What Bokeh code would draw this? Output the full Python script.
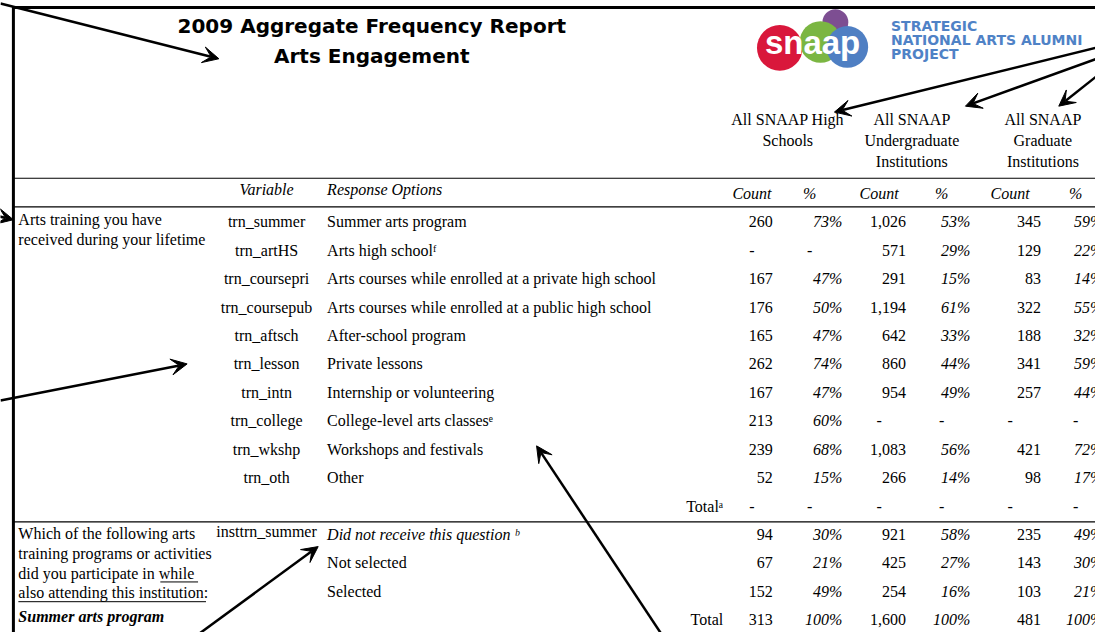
from bokeh.plotting import figure
from bokeh.models import Range1d, ColumnDataSource, Arrow, VeeHead
from bokeh.core.properties import value
from bokeh.embed import file_html
from bokeh.resources import INLINE

# ---------------- data ----------------
title_lines = ["2009 Aggregate Frequency Report", "Arts Engagement"]
logo_word = "snaap"
logo_lines = ["STRATEGIC", "NATIONAL ARTS ALUMNI", "PROJECT"]
group_headers = [["All SNAAP High", "Schools"],
                 ["All SNAAP", "Undergraduate", "Institutions"],
                 ["All SNAAP", "Graduate", "Institutions"]]
stat_headers = ["Count", "%"]
col_headers = ["Variable", "Response Options"]

q1_label = ["Arts training you have", "received during your lifetime"]
q1_vars = ["trn_summer", "trn_artHS", "trn_coursepri", "trn_coursepub", "trn_aftsch",
           "trn_lesson", "trn_intn", "trn_college", "trn_wkshp", "trn_oth"]
q1_responses = ["Summer arts program", "Arts high school\u1da0",
                "Arts courses while enrolled at a private high school",
                "Arts courses while enrolled at a public high school",
                "After-school program", "Private lessons", "Internship or volunteering",
                "College-level arts classes\u1d49", "Workshops and festivals", "Other"]
q1_hs_count = [260, None, 167, 176, 165, 262, 167, 213, 239, 52]
q1_hs_pct = [73, None, 47, 50, 47, 74, 47, 60, 68, 15]
q1_ug_count = [1026, 571, 291, 1194, 642, 860, 954, None, 1083, 266]
q1_ug_pct = [53, 29, 15, 61, 33, 44, 49, None, 56, 14]
q1_gr_count = [345, 129, 83, 322, 188, 341, 257, None, 421, 98]
q1_gr_pct = [59, 22, 14, 55, 32, 59, 44, None, 72, 17]
q1_total_label = "Total\u1d43"
q1_totals = [None, None, None, None, None, None]

q2_label = ["Which of the following arts", "training programs or activities",
            "did you participate in while ", "also attending this institution:"]
q2_label_bold = "Summer arts program"
q2_var = "insttrn_summer"
q2_responses = ["Did not receive this question \u1d47", "Not selected", "Selected"]
q2_hs_count = [94, 67, 152]
q2_hs_pct = [30, 21, 49]
q2_ug_count = [921, 425, 254]
q2_ug_pct = [58, 27, 16]
q2_gr_count = [235, 143, 103]
q2_gr_pct = [49, 30, 21]
q2_total_label = "Total"
q2_totals = [313, 100, 1600, 100, 481, 100]

# ---------------- layout ----------------
W, H = 1103, 640          # reference coordinate space
FW, FH = 1095, 632        # figure size that fits the window
ROW0, ROW_H = 224, 28.8
COL_CENTER = [757, 815, 885, 948, 1017, 1083]
COL_RIGHT = [778, 848, 912, 977, 1048, 1111]
GROUP_X = [793, 918, 1050]
VAR_X, RESP_X, LABEL_X, TOTAL_X = 268, 329, 18, 728
SERIF = value("Liberation Serif")
FS = "16px"

p = figure(width=FW, height=FH, x_range=Range1d(0, W), y_range=Range1d(H, 0),
           output_backend="svg", toolbar_location=None, x_axis_type=None, y_axis_type=None,
           min_border=0, outline_line_color=None)
p.grid.visible = False
p.background_fill_color = "white"


def row_y(k):
    return ROW0 + ROW_H * k


def fmt(v, pct):
    if v is None:
        return "-"
    return f"{v}%" if pct else f"{v:,}"


cells = {"cnt": dict(x=[], y=[], t=[]), "pct": dict(x=[], y=[], t=[]), "dash": dict(x=[], y=[], t=[])}


def add_row(k, vals):
    for j, v in enumerate(vals):
        pct = (j % 2 == 1)
        if v is None:
            d = cells["dash"]; d["x"].append(COL_CENTER[j])
        else:
            d = cells["pct" if pct else "cnt"]; d["x"].append(COL_RIGHT[j])
        d["y"].append(row_y(k)); d["t"].append(fmt(v, pct))


for i in range(len(q1_vars)):
    add_row(i, [q1_hs_count[i], q1_hs_pct[i], q1_ug_count[i], q1_ug_pct[i], q1_gr_count[i], q1_gr_pct[i]])
k_tot1 = len(q1_vars)
add_row(k_tot1, q1_totals)
for i in range(len(q2_responses)):
    add_row(k_tot1 + 1 + i, [q2_hs_count[i], q2_hs_pct[i], q2_ug_count[i], q2_ug_pct[i], q2_gr_count[i], q2_gr_pct[i]])
k_tot2 = k_tot1 + 1 + len(q2_responses)
add_row(k_tot2, q2_totals)

# ---------------- frame lines ----------------
p.segment(x0=[12], y0=[7], x1=[W + 20], y1=[7], line_width=3, line_color="black")
p.segment(x0=[13], y0=[6], x1=[13], y1=[H + 20], line_width=3, line_color="black")
sep_y = [180, 209, row_y(k_tot1) + 16]
p.segment(x0=[13] * 3, y0=sep_y, x1=[W + 20] * 3, y1=sep_y, line_width=1.2, line_color="black")

# ---------------- title ----------------
p.text(x=[374, 374], y=[26, 56], text=title_lines, text_align="center", text_baseline="middle",
       text_font=value("DejaVu Sans"), text_font_style="bold", text_font_size="20px", text_color="black")

# ---------------- logo ----------------
p.circle(x=[841], y=[22], radius=13, fill_color="#7d4e92", line_color=None)
p.circle(x=[785], y=[48], radius=23, fill_color="#d9173b", line_color=None)
p.circle(x=[826], y=[42], radius=21, fill_color="#7bb642", line_color=None)
p.circle(x=[853], y=[47], radius=21, fill_color="#4f7fc3", line_color=None)
p.text(x=[818], y=[43], text=[logo_word], text_align="center", text_baseline="middle",
       text_font=value("Liberation Sans"), text_font_style="bold", text_font_size="33px", text_color="white")
p.text(x=[897] * 3, y=[26, 40, 54], text=logo_lines, text_align="left", text_baseline="middle",
       text_font=value("DejaVu Sans"), text_font_style="bold", text_font_size="14px", text_color="#4f82c6")

# ---------------- group headers ----------------
for g, lines in enumerate(group_headers):
    p.text(x=[GROUP_X[g]] * len(lines), y=[121 + 21 * i for i in range(len(lines))], text=lines,
           text_align="center", text_baseline="middle", text_font=SERIF, text_font_size=FS, text_color="black")

p.text(x=COL_CENTER, y=[195] * 6, text=stat_headers * 3, text_align="center", text_baseline="middle",
       text_font=SERIF, text_font_style="italic", text_font_size=FS, text_color="black")
p.text(x=[VAR_X], y=[191], text=[col_headers[0]], text_align="center", text_baseline="middle",
       text_font=SERIF, text_font_style="italic", text_font_size=FS, text_color="black")
p.text(x=[RESP_X], y=[191], text=[col_headers[1]], text_align="left", text_baseline="middle",
       text_font=SERIF, text_font_style="italic", text_font_size=FS, text_color="black")

# ---------------- question 1 ----------------
p.text(x=[LABEL_X] * 2, y=[222, 242], text=q1_label, text_align="left", text_baseline="middle",
       text_font=SERIF, text_font_size=FS, text_color="black")
ys1 = [row_y(i) for i in range(len(q1_vars))]
p.text(x=[VAR_X] * len(q1_vars), y=ys1, text=q1_vars, text_align="center", text_baseline="middle",
       text_font=SERIF, text_font_size=FS, text_color="black")
p.text(x=[RESP_X] * len(q1_responses), y=ys1, text=q1_responses, text_align="left", text_baseline="middle",
       text_font=SERIF, text_font_size=FS, text_color="black")
p.text(x=[TOTAL_X, TOTAL_X], y=[row_y(k_tot1), row_y(k_tot2)], text=[q1_total_label, q2_total_label],
       text_align="right", text_baseline="middle", text_font=SERIF, text_font_size=FS, text_color="black")

# ---------------- question 2 ----------------
ly2 = [row_y(k_tot1 + 1) - 1 + 20 * i for i in range(len(q2_label))]
p.text(x=[LABEL_X] * len(q2_label), y=ly2, text=q2_label, text_align="left", text_baseline="middle",
       text_font=SERIF, text_font_size=FS, text_color="black")
p.text(x=[LABEL_X], y=[ly2[-1] + 24], text=[q2_label_bold], text_align="left", text_baseline="middle",
       text_font=SERIF, text_font_style="bold italic", text_font_size=FS, text_color="black")
p.segment(x0=[161, LABEL_X], y0=[ly2[2] + 9, ly2[3] + 9], x1=[199, 207], y1=[ly2[2] + 9, ly2[3] + 9],
          line_width=1, line_color="black")
p.text(x=[VAR_X], y=[row_y(k_tot1 + 1) - 3], text=[q2_var], text_align="center", text_baseline="middle",
       text_font=SERIF, text_font_size=FS, text_color="black")
ys2 = [row_y(k_tot1 + 1 + i) for i in range(len(q2_responses))]
p.text(x=[RESP_X], y=[ys2[0]], text=[q2_responses[0]], text_align="left", text_baseline="middle",
       text_font=SERIF, text_font_style="italic", text_font_size=FS, text_color="black")
p.text(x=[RESP_X] * 2, y=ys2[1:], text=q2_responses[1:], text_align="left", text_baseline="middle",
       text_font=SERIF, text_font_size=FS, text_color="black")

# ---------------- values ----------------
p.text(x="x", y="y", text="t", source=ColumnDataSource(cells["cnt"]), text_align="right",
       text_baseline="middle", text_font=SERIF, text_font_size=FS, text_color="black")
p.text(x="x", y="y", text="t", source=ColumnDataSource(cells["pct"]), text_align="right",
       text_baseline="middle", text_font=SERIF, text_font_style="italic", text_font_size=FS, text_color="black")
p.text(x="x", y="y", text="t", source=ColumnDataSource(cells["dash"]), text_align="center",
       text_baseline="middle", text_font=SERIF, text_font_size=FS, text_color="black")

# ---------------- callout arrows ----------------
arrows = [(0, 3, 220, 59), (-30, 212, 13, 222), (0, 405, 188, 368),
          (1115, 45, 840, 113), (1115, 55, 972, 107), (1115, 68, 1066, 107),
          (195, 645, 320, 553), (668, 645, 540, 451)]
for xs, ys, xe, ye in arrows:
    p.add_layout(Arrow(end=VeeHead(size=16, fill_color="black", line_color="black", line_width=1),
                       x_start=xs, y_start=ys, x_end=xe, y_end=ye, line_width=2.5, line_color="black"))

open("out.html", "w").write(file_html(p, INLINE))
